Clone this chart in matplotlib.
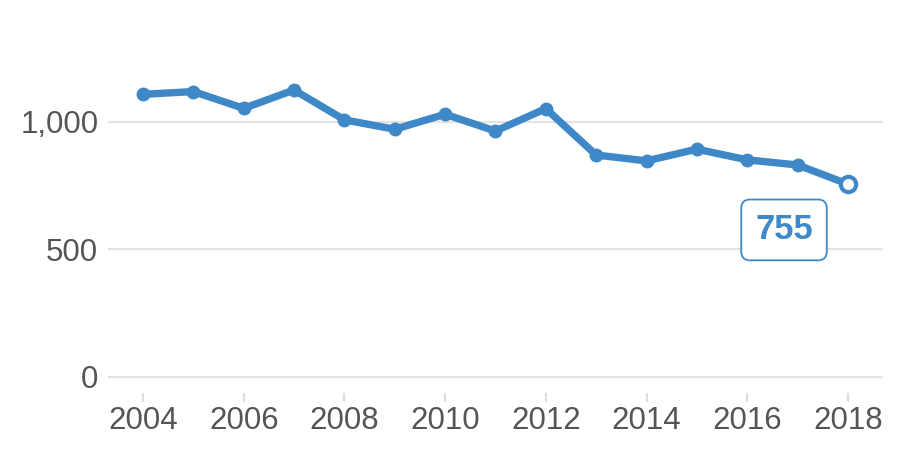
import numpy as np
import matplotlib
matplotlib.use("Agg")
import matplotlib.pyplot as plt
from matplotlib.ticker import FuncFormatter

years = [2004, 2005, 2006, 2007, 2008, 2009, 2010, 2011,
         2012, 2013, 2014, 2015, 2016, 2017, 2018]
values = [1107, 1118, 1052, 1124, 1007, 970, 1029, 963,
          1051, 869, 846, 892, 850, 830, 755]
y_ticks = [0, 500, 1000]
x_ticks = [2004, 2006, 2008, 2010, 2012, 2014, 2016, 2018]

blue = '#3f88c8'
grey_text = '#555555'
grid_col = '#e3e3e3'

plt.rcParams['font.family'] = ['Liberation Sans', 'DejaVu Sans']

fig = plt.figure(figsize=(9, 4.5), dpi=100)
ax = fig.add_axes([0.12, 0.127, 0.861, 0.784])

ax.set_xlim(2003.305, 2018.695)
ax.set_ylim(-64, 1320)

for yv in y_ticks:
    ax.axhline(yv, color=grid_col, lw=1.6, zorder=1)

ax.plot(years, values, color=blue, lw=5.3, marker='o', markersize=9,
        solid_joinstyle='round', zorder=3)
ax.plot(years[-1], values[-1], marker='o', markersize=11,
        markerfacecolor='white', markeredgecolor=blue, markeredgewidth=3,
        zorder=4)

ax.annotate(f"{values[-1]}", xy=(years[-1], values[-1]),
            xytext=(-46, -33), textcoords='offset points',
            ha='center', va='center', fontsize=25, fontweight='bold',
            color=blue, zorder=5,
            bbox=dict(boxstyle='round,pad=0.4,rounding_size=0.25',
                      fc='white', ec=blue, lw=1.3))

for s in ax.spines.values():
    s.set_visible(False)

ax.set_yticks(y_ticks)
ax.yaxis.set_major_formatter(FuncFormatter(lambda v, p: f"{int(v):,}"))
ax.tick_params(axis='y', length=0, pad=7, labelsize=22.5, labelcolor=grey_text)
ax.set_xticks(x_ticks)
ax.tick_params(axis='x', length=6.5, width=1.5, color='#dddddd', pad=3,
               labelsize=22.5, labelcolor=grey_text)

fig.savefig('out.png', dpi=100)
